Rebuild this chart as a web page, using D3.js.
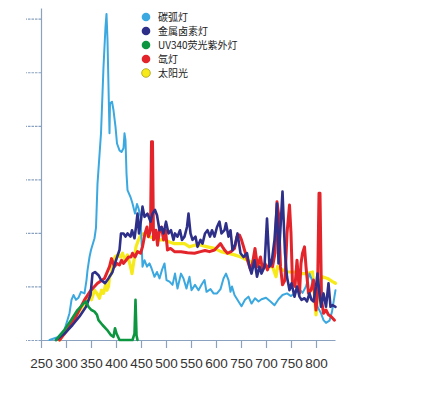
<!DOCTYPE html>
<html>
<head>
<meta charset="utf-8">
<script src="https://cdn.jsdelivr.net/npm/d3@7"></script>
<style>
  body { margin: 0; background: #fff; }
  svg { display: block; }
  .legend text { font-family: "Noto Sans CJK SC", "Noto Sans", sans-serif; font-size: 10px; fill: #222; }
  .x.axis text { font-family: "Liberation Sans", Arial, sans-serif; font-size: 13.5px; fill: #333; }
</style>
</head>
<body>
<div id="chart"></div>
<script>
// series names and colours (legend order)
const seriesNames = ["碳弧灯", "金属卤素灯", "UV340荧光紫外灯", "氙灯", "太阳光"];
const seriesColors = ["#3ca8e0", "#2e2f88", "#0d9640", "#e3242b", "#f7ea1a"];

// x tick labels as printed (note the 750 in place of 650)
const xTickValues = [250, 300, 350, 400, 450, 500, 550, 600, 650, 700, 750, 800];
const xTickLabels = ["250", "300", "350", "400", "450", "500", "550", "600", "750", "700", "750", "800"];
const yTickValues = [0, 1, 2, 3, 4, 5, 6];

// [wavelength, relative intensity]
const carbonArc = [[267,0],[283,0.05],[297,0.19],[307,0.5],[311,0.75],[315,0.84],[320,0.75],[325,0.79],[330,0.9],[337,0.87],
  [341,1.12],[343,1.3],[347,1.55],[350,1.68],[357,1.9],[360,2.1],[363,2.92],[370,3.86],[375,5.1],[379,5.85],[381,6.09],
  [383,5.6],[385,4.73],[387,3.86],[388,4.42],[392,4.45],[395,4.29],[399,3.98],[402,3.67],[407,3.54],[411,3.51],[415,3.58],
  [417,3.86],[419,3.73],[421,3.11],[423,2.8],[429,2.67],[433,2.55],[438,2.36],[442,2.54],[445,2.46],[449,2.3],[451,1.87],
  [453,1.37],[457,1.49],[462,1.37],[467,1.43],[471,1.34],[477,1.18],[482,1.27],[487,1.15],[492,1.31],[497,1.43],[501,1.12],
  [507,1.09],[513,1.03],[518,1.24],[523,0.96],[530,1.24],[535,1.15],[541,0.96],[547,1.18],[551,0.93],[558,1.03],[565,0.93],
  [571,1.03],[577,1.12],[581,0.9],[589,0.95],[595,0.87],[602,0.87],[609,0.95],[615,1.15],[620,1.24],[625,1.12],[629,0.9],
  [632,1.0],[637,0.84],[645,0.72],[651,0.63],[658,0.75],[665,0.81],[671,0.68],[678,0.78],[685,0.72],[691,0.76],[700,0.79],
  [709,0.72],[717,0.65],[725,0.76],[733,0.84],[742,0.87],[750,0.82],[758,0.88],[767,0.95],[773,0.88],[780,1.0],[787,1.24],
  [792,1.12],[797,0.87],[803,0.62],[810,0.5],[815,0.37],[820,0.32],[827,0.36],[832,0.53],[839,0.93]];

const metalHalide = [[280,0],[297,0.12],[313,0.28],[327,0.44],[340,0.62],[349,0.84],[353,1.24],[358,1.27],[365,1.21],
  [370,1.12],[378,1.06],[385,1.15],[393,1.27],[400,1.49],[407,1.68],[410,1.99],[415,1.99],[419,1.93],[423,1.99],[429,1.93],
  [432,2.05],[437,1.9],[440,2.11],[443,2.36],[446,1.99],[450,2.24],[453,2.49],[457,2.3],[463,2.36],[469,2.21],[473,2.36],
  [478,2.43],[482,2.33],[487,2.05],[491,2.11],[495,1.99],[500,2.21],[505,1.99],[510,2.05],[515,1.87],[518,1.99],[523,1.93],
  [528,2.05],[532,1.87],[537,1.93],[542,2.11],[545,2.36],[549,1.99],[553,1.87],[559,1.93],[563,1.74],[569,1.87],[573,1.8],
  [578,1.99],[583,2.05],[588,1.93],[592,2.05],[597,1.93],[602,2.11],[607,2.21],[611,1.99],[617,2.05],[620,2.18],[625,1.93],
  [629,2.05],[633,1.68],[638,1.77],[643,1.99],[649,1.62],[655,1.55],[662,1.62],[667,1.37],[671,1.24],[677,1.49],[682,1.18],
  [687,1.37],[691,1.24],[697,1.37],[702,2.27],[707,1.37],[711,1.43],[717,1.87],[722,2.55],[725,1.43],[733,2.77],[738,1.62],
  [742,1.18],[747,0.93],[751,1.06],[757,0.81],[762,1.0],[767,0.81],[771,0.75],[777,0.78],[782,0.72],[787,0.87],[791,0.75],
  [795,0.72],[800,1.0],[803,1.24],[807,0.87],[810,0.62],[815,0.87],[820,0.62],[825,1.06],[829,0.62],[833,0.65],[839,0.62]];

const uv340 = [[280,0],[297,0.19],[310,0.37],[323,0.56],[335,0.68],[340,0.72],[345,0.62],[351,0.56],[357,0.53],[362,0.47],
  [365,0.37],[373,0.28],[382,0.19],[390,0.09],[395,0.06],[398,0.22],[401,0.12],[407,0],[433,0],[437,0.12],[439,0.75],
  [441,0.09],[443,0]];

const xenon = [[287,0],[303,0.19],[320,0.44],[337,0.75],[350,0.93],[363,1.06],[377,1.15],[387,1.37],[391,1.52],[397,1.37],
  [402,1.43],[407,1.4],[411,1.49],[415,1.43],[420,1.49],[425,1.55],[430,1.55],[433,1.62],[438,1.55],[443,1.65],[449,1.62],
  [453,1.74],[458,1.99],[462,2.11],[465,1.93],[469,2.05],[471,3.7],[473,3.7],[475,1.87],[480,2.05],[483,1.77],[487,2.05],
  [491,2.11],[495,1.87],[499,2.05],[503,1.68],[509,1.71],[517,1.65],[530,1.65],[543,1.63],[557,1.62],[569,1.65],[578,1.67],
  [587,1.65],[597,1.68],[603,1.74],[609,1.8],[613,1.74],[618,1.67],[623,1.62],[630,1.65],[637,1.71],[642,1.93],[647,1.96],
  [651,1.87],[657,1.68],[663,1.49],[669,1.31],[673,1.43],[678,1.71],[683,1.37],[689,1.55],[693,1.31],[698,1.43],[703,1.31],
  [709,1.49],[713,1.37],[718,1.62],[722,2.58],[725,2.36],[729,1.37],[733,1.03],[738,1.12],[742,1.99],[747,2.52],[750,1.99],
  [753,1.06],[758,1.0],[762,1.49],[767,0.87],[770,1.43],[773,1.62],[777,1.74],[780,1.37],[785,0.87],[790,0.93],[795,1.12],
  [800,0.56],[803,0.87],[806,2.74],[808,2.74],[811,0.75],[815,0.5],[820,0.56],[825,0.47],[830,0.44],[837,0.37]];

const sunlight = [[287,0],[303,0.22],[317,0.4],[330,0.59],[340,0.72],[347,0.87],[351,0.75],[357,0.93],[362,0.87],[367,0.78],
  [371,0.93],[375,0.87],[379,1.03],[382,0.93],[385,1.0],[387,1.18],[391,1.24],[393,1.43],[398,1.55],[403,1.59],[409,1.55],
  [413,1.62],[418,1.49],[423,1.59],[429,1.37],[432,1.24],[437,1.55],[440,1.74],[445,1.87],[450,1.96],[457,1.99],[467,1.93],
  [477,1.9],[487,1.87],[497,1.87],[507,1.83],[517,1.8],[527,1.8],[537,1.8],[547,1.74],[557,1.77],[570,1.77],[583,1.74],
  [597,1.71],[610,1.65],[623,1.62],[637,1.59],[650,1.55],[663,1.49],[677,1.43],[690,1.37],[703,1.37],[713,1.37],[720,1.18],
  [723,1.37],[733,1.31],[743,1.27],[757,1.27],[770,1.24],[783,1.24],[793,1.27],[800,0.47],[805,1.06],[813,1.18],[823,1.15],
  [833,1.09],[839,1.06]];

const seriesData = [carbonArc, metalHalide, uv340, xenon, sunlight];
const seriesWidths = [2, 2.6, 2.6, 3, 3.2];
// paint order: sunlight, carbon arc, xenon, metal halide, uv340
const drawOrder = [4, 0, 3, 1, 2];

const width = 423, height = 394;
const svg = d3.select("#chart").append("svg")
    .attr("width", width)
    .attr("height", height);

const x = d3.scaleLinear().domain([250, 838]).range([41, 335]);
const y = d3.scaleLinear().domain([0, 6.2]).range([340, 8]);

const axisColor = "#8aa2c0";

// y axis: dashed ticks, no labels
const yAxisG = svg.append("g")
    .attr("transform", "translate(" + x(250) + ",0)")
    .call(d3.axisLeft(y).tickValues(yTickValues).tickSize(15).tickSizeOuter(0).tickFormat(""));
yAxisG.select(".domain").attr("stroke", axisColor).attr("stroke-width", 1.2);
yAxisG.selectAll(".tick line").attr("stroke", axisColor).attr("stroke-width", 1.2).attr("stroke-dasharray", "2.5,1");

// x axis
const xAxisG = svg.append("g")
    .attr("class", "x axis")
    .attr("transform", "translate(0," + y(0) + ")")
    .call(d3.axisBottom(x).tickValues(xTickValues).tickSize(8).tickSizeOuter(0).tickPadding(10)
      .tickFormat(function(d, i) { return xTickLabels[i]; }));
xAxisG.select(".domain").attr("stroke", axisColor).attr("stroke-width", 1.2);
xAxisG.selectAll(".tick line").attr("stroke", axisColor).attr("stroke-width", 1.2);
xAxisG.selectAll(".tick text").attr("fill", "#333").style("font-size", "13.5px");

// spectra
const line = d3.line()
    .x(function(d) { return x(d[0]); })
    .y(function(d) { return y(d[1]); });

drawOrder.forEach(function(i) {
  svg.append("path")
      .datum(seriesData[i])
      .attr("fill", "none")
      .attr("stroke", seriesColors[i])
      .attr("stroke-width", seriesWidths[i])
      .attr("stroke-linejoin", "round")
      .attr("stroke-linecap", "round")
      .attr("d", line);
});

// legend
const legend = svg.append("g").attr("class", "legend").attr("transform", "translate(146,17)");
const items = legend.selectAll("g")
    .data(seriesNames)
    .enter()
    .append("g")
      .attr("transform", function(d, i) { return "translate(0," + (i * 14) + ")"; });

items.append("circle")
    .attr("r", 4.3)
    .attr("fill", function(d, i) { return seriesColors[i]; })
    .attr("stroke", function(d, i) { return i === 4 ? "#a89c10" : "none"; })
    .attr("stroke-width", 0.8);

items.append("text")
    .attr("x", 12)
    .attr("dy", "0.35em")
    .text(function(d) { return d; });
</script>
</body>
</html>
